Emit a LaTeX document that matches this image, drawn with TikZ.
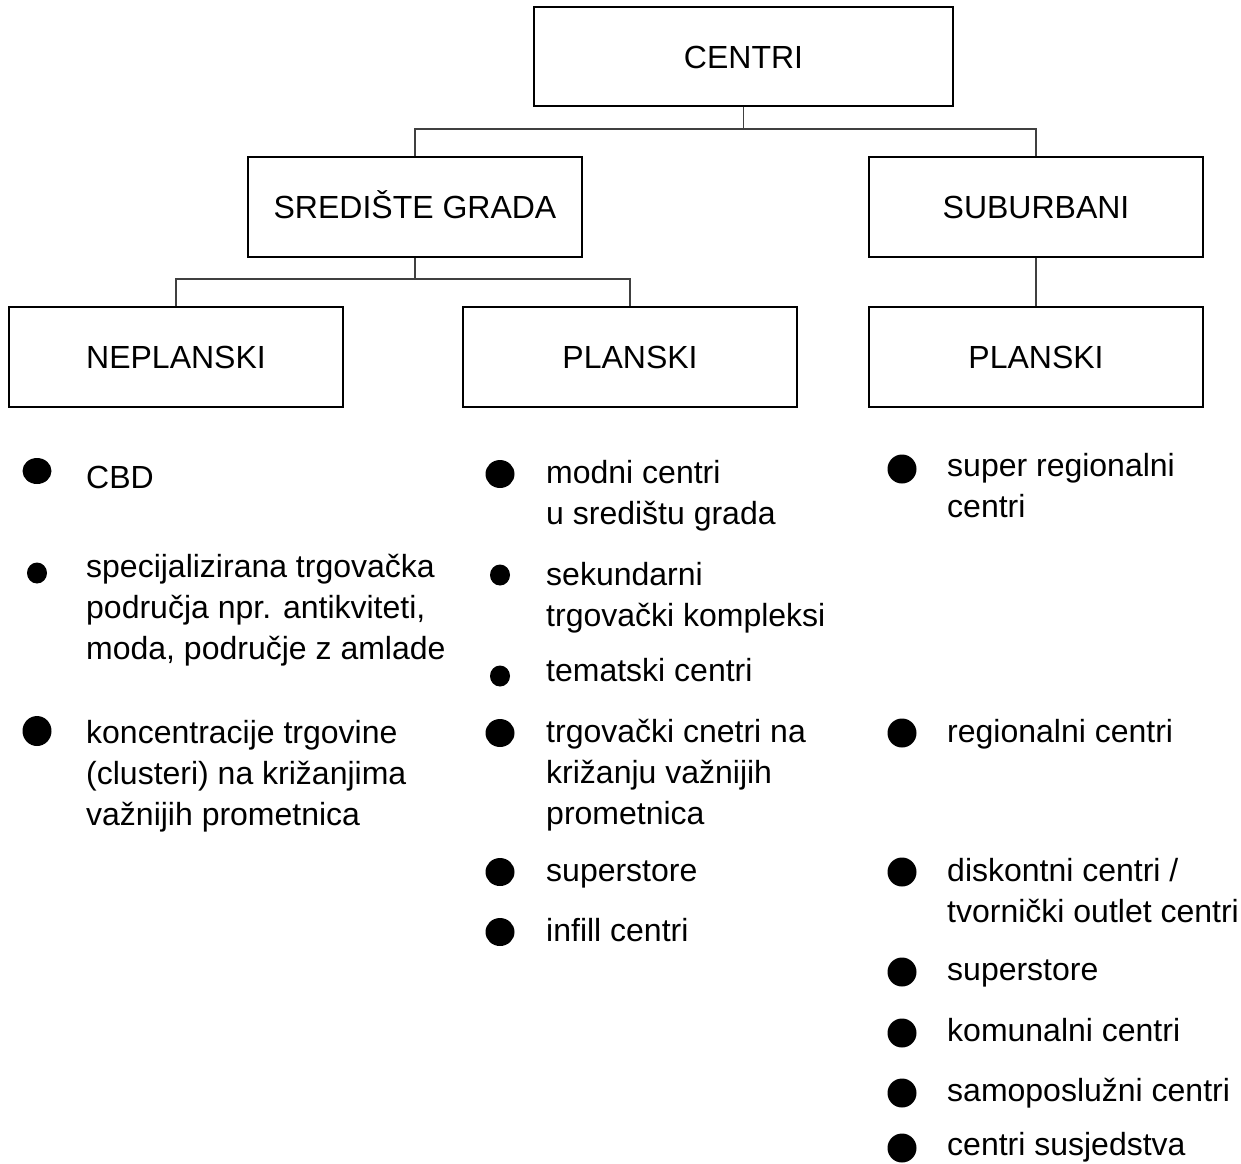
\documentclass[tikz,border=0pt]{standalone}
\usepackage{fontspec}
\setmainfont{Liberation Sans}
\usetikzlibrary{shapes.geometric}
\begin{document}
\begin{tikzpicture}[x=1pt,y=-1pt,
  box/.style={draw=black, line width=1.3pt, minimum width=334pt, minimum height=100pt, inner sep=0pt,
    text height=23pt, text depth=0pt, font=\fontsize{32}{41}\selectfont},
  link/.style={draw=black!75, line width=1.1pt},
  item/.style={anchor=north west, inner sep=0pt, align=left, font=\fontsize{32}{41}\selectfont},
  bul/.style={ellipse, fill=black, draw=none, inner sep=0pt, minimum width=29pt, minimum height=28pt},
  bulsmall/.style={bul, minimum width=20pt, minimum height=21pt},
  bulwide/.style={bul, minimum width=29pt, minimum height=29pt}
]
\useasboundingbox (0,0) rectangle (1241,1163);
% boxes
\node[box, minimum width=419pt, minimum height=99pt] (centri) at (743.5,56.5) {CENTRI};
\node[box] (sred) at (415,207) {SREDIŠTE GRADA};
\node[box] (sub) at (1036,207) {SUBURBANI};
\node[box] (nepl) at (176,357) {NEPLANSKI};
\node[box] (plan) at (630,357) {PLANSKI};
\node[box] (plan2) at (1036,357) {PLANSKI};
% connectors
\coordinate (j1) at (743.5,129);
\coordinate (j2) at (415,279);
\draw[link] (centri.south) -- (j1);
\draw[link] (sred.north) |- (j1) -| (sub.north);
\draw[link] (sred.south) -- (j2);
\draw[link] (nepl.north) |- (j2) -| (plan.north);
\draw[link] (sub.south) -- (plan2.north);
% left column
\node[bul, minimum height=26pt] (bl1) at (37,471) {};
\node[item] (tl1) at (86,488-28.7) {\strut CBD};
\node[bulsmall] (bl2) at (37,573) {};
\node[item] (tl2) at (86,577-28.7) {\strut specijalizirana trgovačka\\područja npr. antikviteti,\\moda, područje z amlade};
\node[bul, minimum height=30pt] (bl3) at (37,731) {};
\node[item] (tl3) at (86,743-28.7) {\strut koncentracije trgovine\\(clusteri) na križanjima\\važnijih prometnica};
% middle column
\node[bul] (bm1) at (500,474) {};
\node[item] (tm1) at (546,483-28.7) {\strut modni centri\\u središtu grada};
\node[bulsmall] (bm2) at (500,575) {};
\node[item] (tm2) at (546,585-28.7) {\strut sekundarni\\trgovački kompleksi};
\node[bulsmall] (bm3) at (500,676) {};
\node[item] (tm3) at (546,681-28.7) {\strut tematski centri};
\node[bul] (bm4) at (500,733) {};
\node[item] (tm4) at (546,742-28.7) {\strut trgovački cnetri na\\križanju važnijih\\prometnica};
\node[bul] (bm5) at (500,872) {};
\node[item] (tm5) at (546,881-28.7) {\strut superstore};
\node[bul] (bm6) at (500,932) {};
\node[item] (tm6) at (546,941-28.7) {\strut infill centri};
% right column
\node[bulwide] (br1) at (902,469) {};
\node[item] (tr1) at (947,476-28.7) {\strut super regionalni\\centri};
\node[bulwide] (br2) at (902,733) {};
\node[item] (tr2) at (947,742-28.7) {\strut regionalni centri};
\node[bulwide] (br3) at (902,872) {};
\node[item] (tr3) at (947,881-28.7) {\strut diskontni centri /\\tvornički outlet centri};
\node[bulwide] (br4) at (902,972) {};
\node[item] (tr4) at (947,980-28.7) {\strut superstore};
\node[bulwide] (br5) at (902,1033) {};
\node[item] (tr5) at (947,1041-28.7) {\strut komunalni centri};
\node[bulwide] (br6) at (902,1093) {};
\node[item] (tr6) at (947,1101-28.7) {\strut samoposlužni centri};
\node[bulwide] (br7) at (902,1148) {};
\node[item] (tr7) at (947,1155-28.7) {\strut centri susjedstva};
\end{tikzpicture}
\end{document}
